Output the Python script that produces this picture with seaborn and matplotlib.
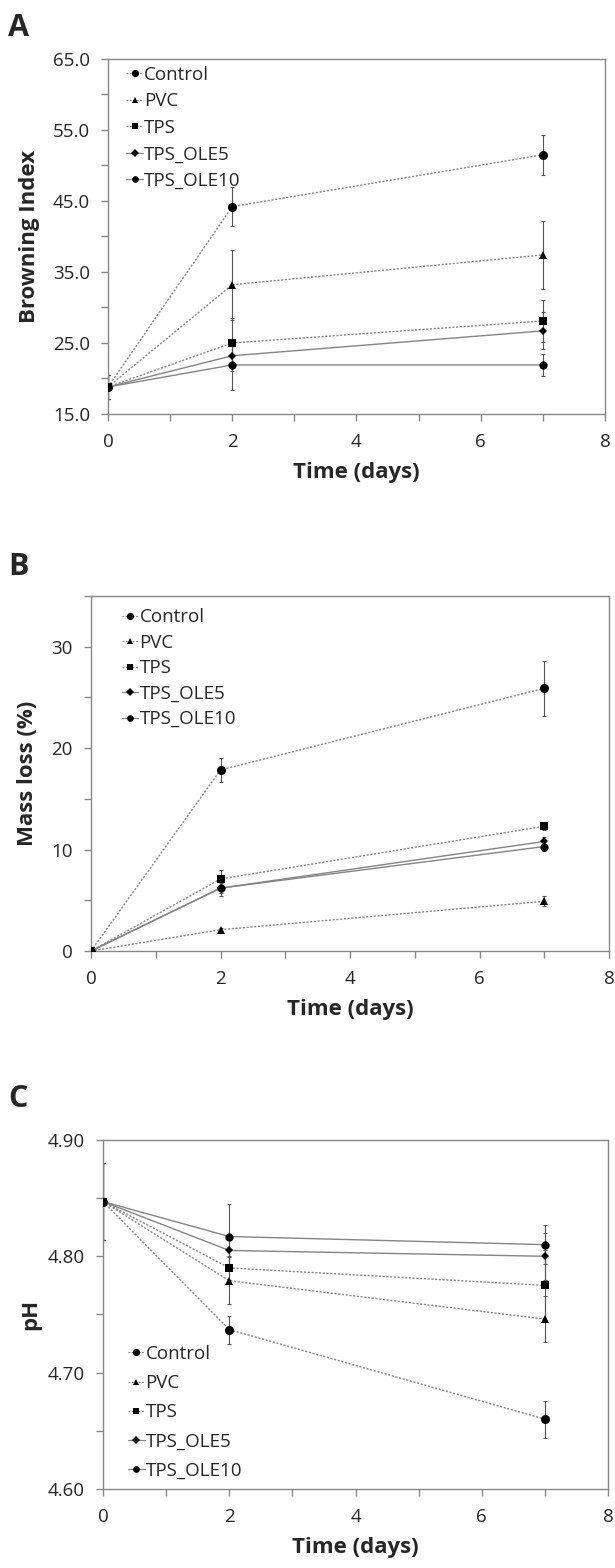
import numpy as np
import pandas as pd
import matplotlib
matplotlib.use('Agg')
import matplotlib.pyplot as plt
import seaborn as sns
from matplotlib.ticker import MultipleLocator, FormatStrFormatter

sns.set_theme(style='white')
plt.rcParams['font.family'] = ['Open Sans', 'DejaVu Sans']

days = [0, 2, 7]
series = ['Control', 'PVC', 'TPS', 'TPS_OLE5', 'TPS_OLE10']

# Browning index
bi_control = [18.8, 44.2, 51.5]
bi_pvc = [18.8, 33.2, 37.4]
bi_tps = [18.8, 25.0, 28.1]
bi_ole5 = [18.8, 23.2, 26.7]
bi_ole10 = [18.8, 21.9, 21.9]
bi_err_control = [1.7, 2.7, 2.85]
bi_err_pvc = [1.7, 4.9, 4.8]
bi_err_tps = [1.7, 3.5, 3.0]
bi_err_ole5 = [1.7, 2.2, 2.6]
bi_err_ole10 = [1.7, 3.5, 1.6]

# Mass loss (%)
ml_control = [0, 17.85, 25.9]
ml_pvc = [0, 2.1, 4.9]
ml_tps = [0, 7.1, 12.3]
ml_ole5 = [0, 6.2, 10.8]
ml_ole10 = [0, 6.2, 10.3]
ml_err_control = [0, 1.2, 2.7]
ml_err_pvc = [0, 0.2, 0.5]
ml_err_tps = [0, 0.9, 0.4]
ml_err_ole5 = [0, 0.8, 0.4]
ml_err_ole10 = [0, 0.5, 0.4]

# pH
ph_control = [4.847, 4.737, 4.660]
ph_pvc = [4.847, 4.779, 4.746]
ph_tps = [4.847, 4.790, 4.775]
ph_ole5 = [4.847, 4.805, 4.800]
ph_ole10 = [4.847, 4.817, 4.810]
ph_err_control = [0.033, 0.012, 0.016]
ph_err_pvc = [0.033, 0.020, 0.020]
ph_err_tps = [0.033, 0.010, 0.030]
ph_err_ole5 = [0.033, 0.012, 0.020]
ph_err_ole10 = [0.033, 0.028, 0.017]

LINE = '#858585'
markers = {'Control': 'o', 'PVC': '^', 'TPS': 's', 'TPS_OLE5': 'D', 'TPS_OLE10': 'o'}
msizes = {'Control': 6.5, 'PVC': 6, 'TPS': 6, 'TPS_OLE5': 4.5, 'TPS_OLE10': 6}
dashes = {'Control': (1.5, 1.2), 'PVC': (1.5, 1.2), 'TPS': (1.5, 1.2),
          'TPS_OLE5': '', 'TPS_OLE10': ''}


def make_frame(values, errors):
    rows = []
    for name, vals, errs in zip(series, values, errors):
        for d, v, e in zip(days, vals, errs):
            rows.append({'day': d, 'value': v, 'err': e, 'series': name})
    return pd.DataFrame(rows)


def draw_panel(ax, df, ylabel, ylim, major, minor, fmt, leg_loc, leg_anchor,
               leg_spacing, xlab_y, ylab_x):
    for name in series:
        sub = df[df['series'] == name]
        ax.errorbar(sub['day'], sub['value'], yerr=sub['err'], fmt='none',
                    ecolor='#555555', elinewidth=0.8, capsize=1.5, capthick=0.8, zorder=1)

    sns.lineplot(data=df, x='day', y='value', hue='series', style='series',
                 palette={s: LINE for s in series}, markers=markers, dashes=dashes,
                 hue_order=series, style_order=series, linewidth=1.0, ax=ax, zorder=3)

    mk_lines = [l for l in ax.get_lines() if l.get_marker() in ('o', '^', 's', 'D')
                and len(l.get_xdata()) == len(days)]
    for line, name in zip(mk_lines, series):
        line.set_markerfacecolor('black')
        line.set_markeredgecolor('black')
        line.set_markeredgewidth(0)
        line.set_markersize(msizes[name])

    handles, labels = ax.get_legend_handles_labels()
    for h, name in zip(handles, labels):
        h.set_markerfacecolor('black')
        h.set_markeredgecolor('black')
        h.set_markeredgewidth(0)
        h.set_markersize(msizes[name] * 0.8)
        h.set_linewidth(0.9)
    ax.legend(handles, labels, loc=leg_loc, bbox_to_anchor=leg_anchor, frameon=False,
              fontsize=13.5, handlelength=0.9, handletextpad=0.05,
              labelspacing=leg_spacing, borderaxespad=0, borderpad=0)

    ax.set_xlim(0, 8)
    ax.set_ylim(*ylim)
    ax.xaxis.set_major_locator(MultipleLocator(2))
    ax.xaxis.set_minor_locator(MultipleLocator(1))
    ax.yaxis.set_major_locator(MultipleLocator(major))
    ax.yaxis.set_minor_locator(MultipleLocator(minor))
    ax.yaxis.set_major_formatter(FormatStrFormatter(fmt))
    ax.tick_params(which='both', direction='out', color='#878787', width=1,
                   bottom=True, left=True, labelsize=13.5)
    ax.tick_params(which='both', length=5)
    ax.tick_params(axis='y', pad=8)
    ax.tick_params(axis='x', pad=9)
    for sp in ax.spines.values():
        sp.set_color('#878787')
        sp.set_linewidth(1)
    ax.set_xlabel('Time (days)', fontsize=16, fontweight='bold', va='center')
    ax.set_ylabel(ylabel, fontsize=16, fontweight='bold', va='center')
    ax.xaxis.set_label_coords(0.5, xlab_y)
    ax.yaxis.set_label_coords(ylab_x, 0.5)
    ax.grid(False)


fig = plt.figure(figsize=(6.15, 15.68), dpi=100)

ax_a = fig.add_axes([0.1756, 0.7360, 0.8081, 0.2264])
ax_b = fig.add_axes([0.1480, 0.3935, 0.8423, 0.2264])
ax_c = fig.add_axes([0.1675, 0.0504, 0.8211, 0.2226])

df_a = make_frame([bi_control, bi_pvc, bi_tps, bi_ole5, bi_ole10],
                  [bi_err_control, bi_err_pvc, bi_err_tps, bi_err_ole5, bi_err_ole10])
df_b = make_frame([ml_control, ml_pvc, ml_tps, ml_ole5, ml_ole10],
                  [ml_err_control, ml_err_pvc, ml_err_tps, ml_err_ole5, ml_err_ole10])
df_c = make_frame([ph_control, ph_pvc, ph_tps, ph_ole5, ph_ole10],
                  [ph_err_control, ph_err_pvc, ph_err_tps, ph_err_ole5, ph_err_ole10])

draw_panel(ax_a, df_a, 'Browning Index', (15, 65), 10, 5, '%.1f',
           'upper left', (0.037, 0.98), 0.45, -0.166, -0.157)
draw_panel(ax_b, df_b, 'Mass loss (%)', (0, 35), 10, 5, '%d',
           'upper left', (0.059, 0.966), 0.4, -0.166, -0.122)
draw_panel(ax_c, df_c, 'pH', (4.6, 4.9), 0.1, 0.05, '%.2f',
           'lower left', (0.049, 0.026), 0.6, -0.169, -0.143)

ax_a.yaxis.set_major_locator(MultipleLocator(10, offset=5))
ax_a.yaxis.set_minor_locator(MultipleLocator(5))

for letter, y in [('A', 0.992), ('B', 0.648), ('C', 0.3087)]:
    fig.text(0.013, y, letter, fontsize=22, fontweight='bold', va='top', ha='left')

fig.savefig('out.png', dpi=100)
